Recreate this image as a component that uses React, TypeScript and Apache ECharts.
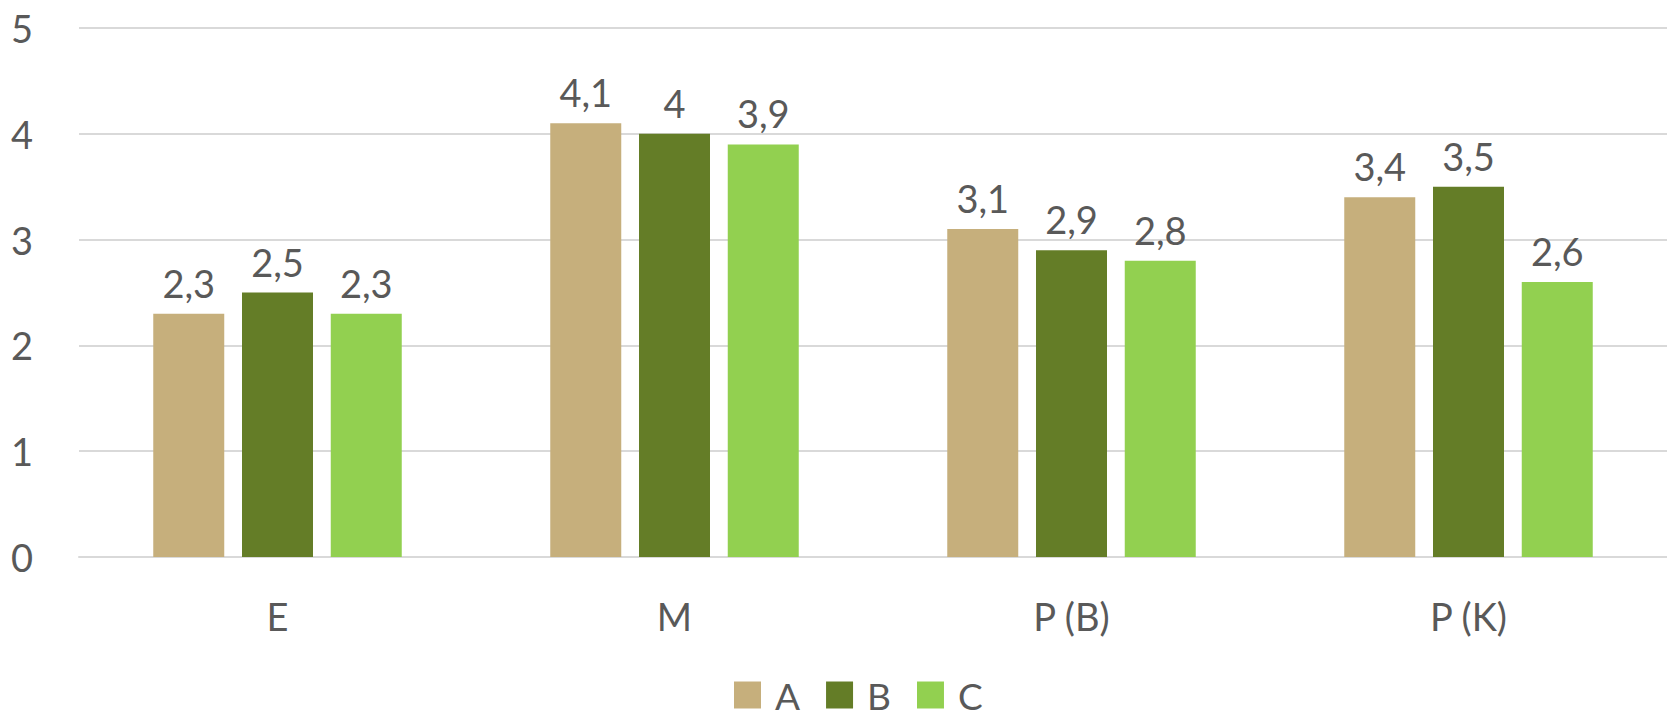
import React, { useEffect, useRef } from "react";
import * as echarts from "echarts";

const categories = ["E", "M", "P (B)", "P (K)"];
const seriesNames = ["A", "B", "C"];
const valuesA = [2.3, 4.1, 3.1, 3.4];
const valuesB = [2.5, 4.0, 2.9, 3.5];
const valuesC = [2.3, 3.9, 2.8, 2.6];
const colors = ["#C6AF7C", "#647D27", "#92D050"];
const yTicks = { min: 0, max: 5, interval: 1 };

const FONT = "Lato, 'Open Sans', sans-serif";
const TEXT = "#595959";

export default function App() {
  const ref = useRef<HTMLDivElement>(null);
  useEffect(() => {
    document.body.style.margin = "0";
    const chart = echarts.init(ref.current!, null, { renderer: "svg" });
    const data = [valuesA, valuesB, valuesC];
    chart.setOption({
      animation: false,
      textStyle: { fontFamily: FONT },
      grid: { left: 79, right: 0, top: 28, bottom: 162 },
      legend: {
        data: seriesNames,
        left: 734,
        top: 676,
        padding: 0,
        itemWidth: 27,
        itemHeight: 27,
        itemGap: 26,
        icon: "rect",
        textStyle: { fontSize: 37, lineHeight: 38, color: TEXT, fontFamily: FONT, padding: [0, 0, 0, 9] },
      },
      xAxis: {
        type: "category",
        data: categories,
        axisLine: { lineStyle: { color: "#D9D9D9", width: 2 } },
        axisTick: { show: false },
        axisLabel: { fontSize: 38, color: TEXT, margin: 40, fontFamily: FONT },
      },
      yAxis: {
        type: "value",
        min: yTicks.min,
        max: yTicks.max,
        interval: yTicks.interval,
        axisLine: { show: false },
        axisTick: { show: false },
        splitLine: { lineStyle: { color: "#D9D9D9", width: 2 } },
        axisLabel: { fontSize: 38, color: TEXT, margin: 46, fontFamily: FONT },
      },
      series: seriesNames.map((name, i) => ({
        name,
        type: "bar",
        data: data[i],
        barWidth: 71,
        barGap: "25%",
        itemStyle: { color: colors[i] },
        label: {
          show: true,
          position: "top",
          distance: 12,
          fontSize: 38,
          color: TEXT,
          fontFamily: FONT,
          formatter: (p: any) => String(p.value).replace(".", ","),
        },
      })),
    });
    return () => chart.dispose();
  }, []);
  return <div ref={ref} style={{ width: 1667, height: 719 }} />;
}
